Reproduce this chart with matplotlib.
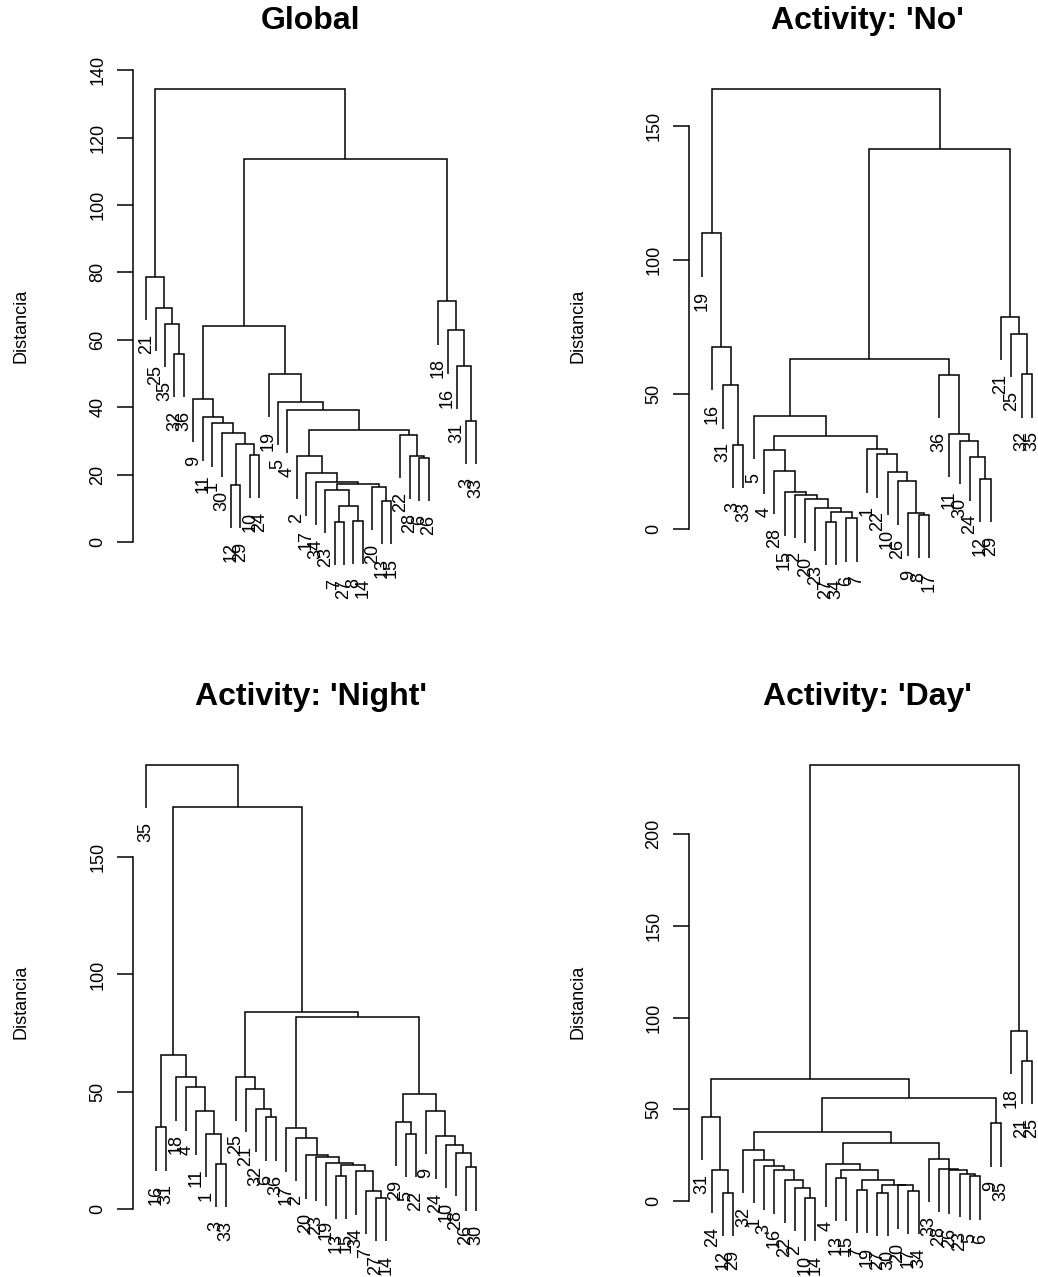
import matplotlib
matplotlib.use('Agg')
import matplotlib.pyplot as plt

plt.rcParams['font.family'] = ['Liberation Sans', 'DejaVu Sans']

# merges as in R's hclust: negative = observation id, positive = earlier row (1-based)
global_merge = [(-32, -36), (-35, 1), (-25, 2), (-21, 3),
                (-3, -33), (-31, 5), (-16, 6), (-18, 7),
                (-12, -29), (-10, -24), (9, 10), (-30, 11), (-1, 12), (-11, 13), (-9, 14),
                (-7, -27), (-8, -14), (16, 17), (-23, 18), (-13, -15), (-20, 20), (19, 21),
                (-34, 22), (-17, 23), (-2, 24), (-6, -26), (-28, 26), (-22, 27), (25, 28),
                (-4, 29), (-5, 30), (-19, 31), (15, 32), (33, 8), (4, 34)]
global_height = [55.9, 64.8, 69.4, 78.6,
                 35.9, 52.3, 62.8, 71.4,
                 16.9, 25.8, 29.2, 32.2, 35.2, 37.0, 42.4,
                 6.0, 6.3, 10.7, 15.4, 12.1, 16.4, 17.1,
                 17.9, 20.6, 25.5, 25.0, 25.6, 31.7, 33.2,
                 39.2, 41.5, 49.9, 64.0, 113.6, 134.4]
global_ticks = [0, 20, 40, 60, 80, 100, 120, 140]

no_merge = [(-3, -33), (-31, 1), (-16, 2), (-19, 3),
            (-32, -35), (-25, 5), (-21, 6),
            (-12, -29), (-24, 8), (-30, 9), (-11, 10), (-36, 11),
            (-27, -34), (-6, -7), (13, 14), (-23, 15), (-20, 16), (-2, 17), (-15, 18),
            (-28, 19), (-4, 20),
            (-8, -17), (-9, 22), (-26, 23), (-10, 24), (-22, 25), (-1, 26),
            (21, 27), (-5, 28), (29, 12), (30, 7), (4, 31)]
no_height = [31.3, 53.4, 67.8, 110.0,
             57.5, 72.5, 78.9,
             18.7, 26.6, 32.8, 35.4, 57.3,
             2.6, 3.9, 6.4, 7.7, 10.9, 12.5, 13.5,
             21.5, 29.2,
             5.2, 5.8, 17.6, 21.2, 27.7, 29.6,
             34.7, 42.1, 63.1, 141.2, 163.7]
no_ticks = [0, 50, 100, 150]

night_merge = [(-16, -31), (-3, -33), (-1, 2), (-11, 3), (-4, 4), (-18, 5), (1, 6),
               (-6, -36), (-32, 8), (-21, 9), (-25, 10),
               (-27, -14), (-7, 12), (-34, 13), (-13, -15), (15, 14), (-19, 16),
               (-23, 17), (-20, 18), (-2, 19), (-17, 20),
               (-5, -22), (-29, 22), (-26, -30), (-28, 24), (-10, 25), (-24, 26),
               (-9, 27), (23, 28), (21, 29), (11, 30), (7, 31), (-35, 32)]
night_height = [34.9, 19.2, 32.0, 41.7, 51.9, 56.2, 65.7,
                39.1, 42.7, 51.2, 56.2,
                4.9, 7.7, 16.2, 14.1, 19.0, 19.7,
                22.1, 23.0, 30.3, 34.5,
                32.0, 37.0, 17.9, 23.9, 27.5, 31.4,
                41.8, 48.9, 81.8, 84.2, 171.4, 189.2]
night_ticks = [0, 50, 100, 150]

day_merge = [(-12, -29), (-24, 1), (-31, 2),
             (-10, -14), (-2, 4), (-22, 5), (-16, 6), (-3, 7), (-1, 8), (-32, 9),
             (-13, -15), (-7, -19), (-27, -30), (-17, -34), (-20, 14), (13, 15),
             (12, 16), (11, 17), (-4, 18),
             (-5, -6), (-23, 20), (-26, 21), (-28, 22), (-33, 23),
             (19, 24), (10, 25), (-9, -35), (26, 27), (3, 28),
             (-21, -25), (-18, 30), (29, 31)]
day_height = [4.5, 17.1, 45.9,
              1.8, 7.2, 11.7, 16.8, 18.9, 22.5, 27.9,
              12.6, 6.3, 4.5, 5.4, 8.5, 9.0,
              11.7, 17.1, 20.2,
              13.5, 15.0, 16.8, 17.5, 22.9,
              31.5, 37.8, 42.3, 56.4, 66.3,
              76.6, 92.8, 237.8]
day_ticks = [0, 50, 100, 150, 200]

W, H = 1038, 1277
fig = plt.figure(figsize=(W / 100, H / 100), dpi=100)

# plot regions in pixels (left, top); same size for all four
REG_W, REG_H = 356, 539
regions = [(133, 69), (689, 69), (133, 745), (689, 745)]
LW = 1.1
FS = 13


def leaf_order(merge):
    order = []

    def walk(i):
        if i < 0:
            order.append(-i)
        else:
            a, b = merge[i - 1]
            walk(a)
            walk(b)
    walk(len(merge))
    return order


def draw_dendrogram(ax, merge, height, ticks):
    order = leaf_order(merge)
    n = len(order)
    xpos = {leaf: k + 1 for k, leaf in enumerate(order)}
    hang = 0.1 * (max(height) - min(height))

    node_x = {}
    leaf_ends = []
    for r, (a, b) in enumerate(merge, 1):
        h = height[r - 1]
        pts = []
        for c in (a, b):
            if c < 0:
                pts.append((xpos[-c], h - hang))
                leaf_ends.append(h - hang)
            else:
                pts.append((node_x[c], height[c - 1]))
        (xa, ya), (xb, yb) = pts
        ax.plot([xa, xa, xb, xb], [ya, h, h, yb], color='black', lw=LW,
                solid_joinstyle='miter', solid_capstyle='butt')
        node_x[r] = (xa + xb) / 2
        for c, (x, y) in zip((a, b), pts):
            if c < 0:
                ax.annotate(str(-c), xy=(x, y), xytext=(0, -10),
                            textcoords='offset points', rotation=90,
                            ha='center', va='top', fontsize=FS)

    # y range like plot.hclust: room for hanging labels, then 4% padding
    top = max(height)
    low = min(leaf_ends)
    span = top - low
    for _ in range(60):
        scale = REG_H / (1.08 * span)
        span = top - (low - 23 / scale)
    pad = 0.04 * span
    ax.set_ylim(top - span - pad, top + pad)
    ax.set_xlim(1 - 0.04 * (n - 1), n + 0.04 * (n - 1))

    for s in ('top', 'right', 'bottom'):
        ax.spines[s].set_visible(False)
    ax.spines['left'].set_linewidth(LW)
    ax.spines['left'].set_bounds(ticks[0], ticks[-1])
    ax.set_xticks([])
    ax.set_yticks(ticks)
    ax.set_yticklabels([str(t) for t in ticks], rotation=90, va='center', fontsize=FS)
    ax.tick_params(axis='y', length=11.5, width=LW, pad=7.5)
    ax.set_ylabel('Distancia', fontsize=FS)
    ax.yaxis.set_label_coords(-103 / REG_W, 0.5 + 13 / REG_H)


panels = [
    (global_merge, global_height, global_ticks, 'Global'),
    (no_merge, no_height, no_ticks, "Activity: 'No'"),
    (night_merge, night_height, night_ticks, "Activity: 'Night'"),
    (day_merge, day_height, day_ticks, "Activity: 'Day'"),
]

for (lx, ty), (merge, height, ticks, title) in zip(regions, panels):
    ax = fig.add_axes([lx / W, 1 - (ty + REG_H) / H, REG_W / W, REG_H / H])
    ax.patch.set_alpha(0)
    draw_dendrogram(ax, merge, height, ticks)
    fig.text((lx + REG_W / 2) / W, 1 - (ty - 48) / H, title,
             ha='center', va='center', fontsize=23, fontweight='bold')

fig.savefig('out.png', dpi=100)
